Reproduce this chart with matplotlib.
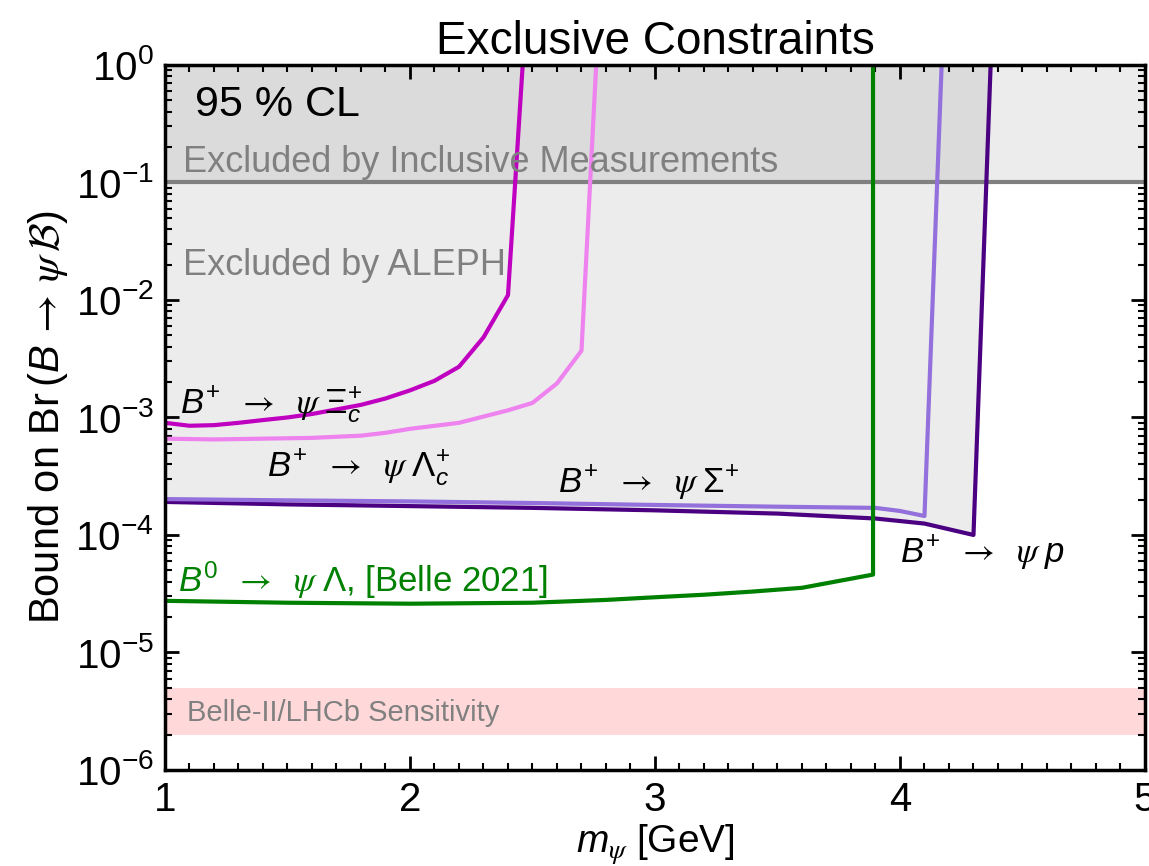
import numpy as np
import matplotlib
matplotlib.use("Agg")
import matplotlib.pyplot as plt

plt.rcParams['font.family'] = ['Liberation Sans', 'DejaVu Sans']
plt.rcParams['mathtext.fontset'] = 'custom'
plt.rcParams['mathtext.rm'] = 'Liberation Sans'
plt.rcParams['mathtext.it'] = 'Liberation Sans:italic'
plt.rcParams['mathtext.bf'] = 'Liberation Sans:bold'
plt.rcParams['mathtext.cal'] = 'cmsy10'
plt.rcParams['mathtext.tt'] = 'STIXGeneral'
plt.rcParams['mathtext.sf'] = 'STIXGeneral:italic'

# ---- data ----
m_xi = [1.0, 1.1, 1.2, 1.3, 1.4, 1.5, 1.6, 1.7, 1.8, 1.9, 2.0, 2.1, 2.2, 2.3, 2.4, 2.46]
br_xi = [9.0e-4, 8.5e-4, 8.6e-4, 9.0e-4, 9.5e-4, 1.0e-3, 1.07e-3, 1.17e-3, 1.28e-3,
         1.45e-3, 1.7e-3, 2.05e-3, 2.7e-3, 4.8e-3, 1.1e-2, 1.0]

m_lc = [1.0, 1.2, 1.4, 1.6, 1.8, 1.9, 2.0, 2.2, 2.4, 2.5, 2.6, 2.7, 2.76]
br_lc = [6.6e-4, 6.5e-4, 6.6e-4, 6.7e-4, 7.0e-4, 7.4e-4, 8.0e-4, 9.0e-4, 1.15e-3,
         1.33e-3, 1.95e-3, 3.7e-3, 1.0]

m_sig = [1.0, 1.5, 2.0, 2.5, 3.0, 3.5, 3.9, 4.0, 4.1, 4.17]
br_sig = [2.02e-4, 1.97e-4, 1.93e-4, 1.87e-4, 1.8e-4, 1.74e-4, 1.7e-4, 1.6e-4, 1.45e-4, 1.0]

m_p = [1.0, 1.5, 2.0, 2.5, 3.0, 3.5, 3.9, 4.1, 4.3, 4.37]
br_p = [1.91e-4, 1.82e-4, 1.76e-4, 1.7e-4, 1.62e-4, 1.52e-4, 1.38e-4, 1.25e-4, 1.0e-4, 1.0]

m_lam = [1.0, 1.5, 2.0, 2.5, 2.8, 3.0, 3.2, 3.4, 3.6, 3.89, 3.89]
br_lam = [2.75e-5, 2.65e-5, 2.6e-5, 2.65e-5, 2.8e-5, 2.95e-5, 3.1e-5, 3.3e-5, 3.55e-5, 4.6e-5, 1.0]

inclusive_bound = 0.1
sens_low, sens_high = 2e-6, 5e-6

ARR = r'\;\;\mathtt{\rightarrow}\;\;'
PSI = r'\mathsf{\psi}\;'

fig = plt.figure(figsize=(11.49, 8.66), dpi=100)
ax = fig.add_axes([0.1436, 0.1109, 0.8529, 0.8141])

ax.set_yscale('log')
ax.set_xlim(1, 5)
ax.set_ylim(1e-6, 1)

# shaded regions
ax.fill_between([1, 5], inclusive_bound, 1, color='gray', alpha=0.15, lw=0)
ax.fill_between(m_p, br_p, 1, color='gray', alpha=0.15, lw=0)
ax.axhline(inclusive_bound, color='gray', lw=3)
ax.fill_between([1, 5], sens_low, sens_high, color='red', alpha=0.15, lw=0)

lw = 3
ax.plot(m_xi, br_xi, color='#c000c0', lw=lw)
ax.plot(m_lc, br_lc, color='violet', lw=lw)
ax.plot(m_p, br_p, color='indigo', lw=lw)
ax.plot(m_sig, br_sig, color='mediumpurple', lw=lw)
ax.plot(m_lam, br_lam, color='green', lw=lw)

fs = 25
ax.text(1.122, 0.457, '95 % CL', fontsize=31, va='center', ha='left')
ax.text(1.073, 0.147, 'Excluded by Inclusive Measurements', fontsize=26, color='gray',
        va='center', ha='left')
ax.text(1.073, 0.0195, 'Excluded by ALEPH', fontsize=26, color='gray', va='center', ha='left')
ax.text(1.09, 3.05e-6, 'Belle-II/LHCb Sensitivity', fontsize=21, color='gray',
        va='center', ha='left')

ax.text(1.061, 1.09e-3, r'$B^{+}' + ARR + PSI + r'\Xi_c^{+}$', fontsize=fs, va='baseline')
ax.text(1.416, 3.12e-4, r'$B^{+}' + ARR + PSI + r'\Lambda_c^{+}$', fontsize=fs, va='baseline')
ax.text(2.604, 2.28e-4, r'$B^{+}' + ARR + PSI + r'\Sigma^{+}$', fontsize=fs, va='baseline')
ax.text(4.0, 5.78e-5, r'$B^{+}' + ARR + PSI + r'p$', fontsize=fs, va='baseline')
ax.text(1.053, 3.27e-5, r'$B^{0}' + ARR + PSI + r'\Lambda$, [Belle 2021]', fontsize=fs,
        color='green', va='baseline')

ax.set_title('Exclusive Constraints', fontsize=33, pad=8)
ax.set_xlabel(r'$m_{\mathsf{\psi}}$ [GeV]', fontsize=28, labelpad=2)
ax.set_ylabel(r'Bound on Br$\,(B\,\mathtt{\rightarrow}\,\mathsf{\psi}\,\mathcal{B})$',
              fontsize=30, labelpad=4)

ax.set_xticks([1, 2, 3, 4, 5])
ax.set_xticks(np.arange(1, 5.001, 0.1), minor=True)
ax.set_yticks([1e-6, 1e-5, 1e-4, 1e-3, 1e-2, 1e-1, 1])
ax.set_yticklabels([r'$10^{-6}$', r'$10^{-5}$', r'$10^{-4}$', r'$10^{-3}$',
                    r'$10^{-2}$', r'$10^{-1}$', r'$10^{0}$'])
ax.tick_params(which='both', direction='in', top=True, right=True, labelsize=29)
ax.tick_params(which='major', length=10, width=2, pad=8)
ax.tick_params(which='minor', length=5, width=1.5)
for s in ax.spines.values():
    s.set_linewidth(2.5)

fig.savefig('out.png', dpi=100)
